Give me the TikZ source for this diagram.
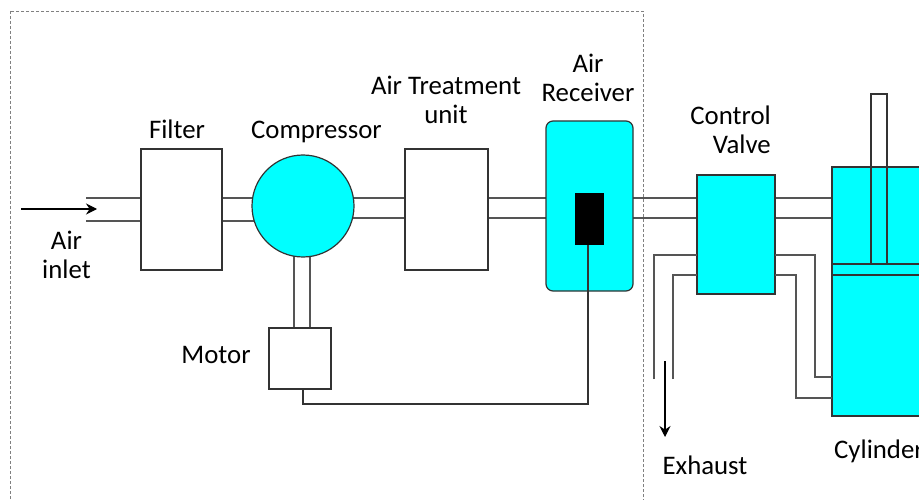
\documentclass[tikz,border=0pt]{standalone}
\usepackage{fontspec}
\setmainfont{Carlito}
\usetikzlibrary{arrows.meta,backgrounds}
\definecolor{boxline}{HTML}{333333}
\definecolor{pipeline}{HTML}{555555}
\definecolor{tankcyan}{RGB}{0,255,255}
\begin{document}
\begin{tikzpicture}
  [
  x=1pt, y=-1pt, font=\fontsize{26.8}{29}\selectfont,
  block/.style={rectangle, inner sep=0pt, outer sep=0pt, draw=boxline, line width=1.2pt, fill=white},
  cyanblock/.style={block, fill=tankcyan},
  pipe/.style={draw=pipeline, line width=1.2pt},
  flow/.style={draw=black, line width=1.1pt, -{Stealth[length=11pt,width=11pt]}},
  label/.style={align=center, inner sep=0pt, text=black}
  ]

\useasboundingbox (0,0) rectangle (919,500);
\clip (0,0) rectangle (919,500);

\draw[dashed, draw=gray, line width=0.7pt, dash pattern=on 3pt off 2pt] (10,11) rectangle (643,520);

\node[block, minimum width=81pt, minimum height=121pt] (filter) at (181.5,209.5) {};
\node[cyanblock, circle, minimum size=102pt] (compressor) at (303,206) {};
\node[block, minimum width=83pt, minimum height=121pt] (treatment) at (446.5,209.5) {};
\node[cyanblock, rounded corners=7pt, minimum width=87pt, minimum height=170pt] (receiver) at (589.5,206) {};
\node[rectangle, fill=black, inner sep=0pt, outer sep=0pt, minimum width=29pt, minimum height=52pt] (sensor) at (589.5,219) {};
\node[block, minimum width=62pt, minimum height=61pt] (motor) at (300,358.5) {};
\node[cyanblock, minimum width=78pt, minimum height=119pt] (valve) at (736,234.5) {};
\node[cyanblock, minimum width=178pt, minimum height=249pt] (cylinder) at (921,291.5) {};
\node[block, fill=none, minimum width=16pt, minimum height=170pt] (rod) at (879,179) {};
\node[block, fill=none, minimum width=178pt, minimum height=11pt] (piston) at (921,269.5) {};

\coordinate (inlet top) at (86,198);
\coordinate (inlet bottom) at (86,221);
\coordinate (shaft left) at (294,300);
\coordinate (shaft right) at (310,300);
\coordinate (main top) at (500,198);
\coordinate (main bottom) at (500,218);

\begin{pgfonlayer}{background}
\foreach \p in {inlet top, inlet bottom} {
  \draw[pipe] (\p) -- (\p -| filter.west);
  \draw[pipe] (\p -| filter.east) -- (\p -| compressor.center);
}
\foreach \p in {main top, main bottom} {
  \draw[pipe] (\p -| compressor.center) -- (\p -| treatment.west);
  \draw[pipe] (\p -| treatment.east) -- (\p -| receiver.west);
  \draw[pipe] (\p -| receiver.east) -- (\p -| valve.west);
  \draw[pipe] (\p -| valve.east) -- (\p -| cylinder.west);
}
\foreach \p in {shaft left, shaft right} {
  \draw[pipe] (\p |- compressor.center) -- (\p |- motor.north);
}
\end{pgfonlayer}

\coordinate (exhaust outer) at (654,379);
\coordinate (exhaust inner) at (673,379);
\coordinate (valve outer) at (700,255);
\coordinate (valve inner) at (700,275);
\coordinate (port upper) at (815,377);
\coordinate (port lower) at (796,398);

\draw[pipe] (exhaust outer) |- (valve outer -| valve.west);
\draw[pipe] (exhaust inner) |- (valve inner -| valve.west);
\draw[pipe] (valve.east |- valve outer) -| (port upper) -- (port upper -| cylinder.west);
\draw[pipe] (valve.east |- valve inner) -| (port lower) -- (port lower -| cylinder.west);

\coordinate (wire start) at (303,404);
\coordinate (wire end) at (588,404);
\draw[pipe, draw=boxline] (wire start |- motor.south) -- (wire start) -- (wire end) -- (wire end |- sensor.south);

\coordinate (air start) at (21,209);
\coordinate (air end) at (97,209);
\coordinate (exhaust start) at (665,361);
\coordinate (exhaust end) at (665,437);
\draw[flow] (air start) -- (air end);
\draw[flow] (exhaust start) -- (exhaust end);

\node[label] (filter label) at (177,129) {Filter};
\node[label] (compressor label) at (316.5,131.5) {Compressor};
\node[label] (treatment label) at (446,100) {Air Treatment\\unit};
\node[label] (receiver label) at (588,78) {Air\\Receiver};
\node[label, align=right, anchor=east] (valve label) at (771,129.5) {Control\\Valve};
\node[label] (motor label) at (216,355) {Motor};
\node[label] (inlet label) at (66.5,255) {Air\\inlet};
\node[label] (exhaust label) at (705,465.5) {Exhaust};
\node[label, anchor=west] (cylinder label) at (834,451) {Cylinder};

\end{tikzpicture}
\end{document}
